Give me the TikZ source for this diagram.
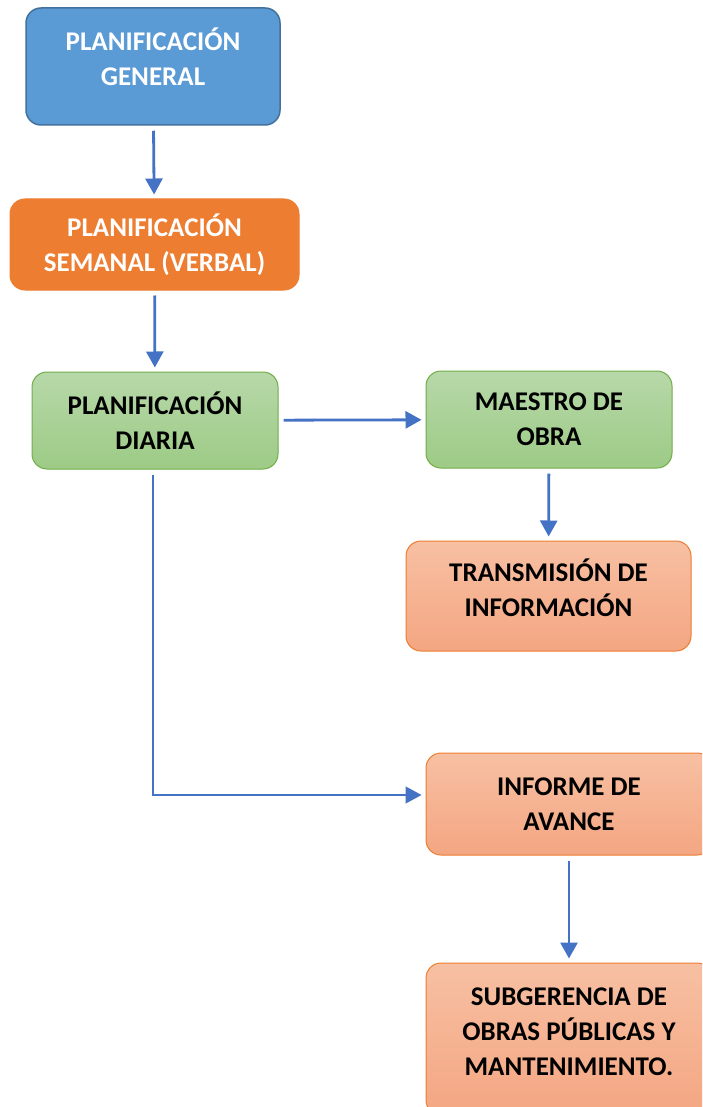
\documentclass[tikz,border=0pt]{standalone}
\usepackage{fontspec}
\setmainfont{Carlito}
\usetikzlibrary{arrows.meta}
\definecolor{azulbox}{HTML}{5B9BD5}
\definecolor{azulborde}{HTML}{41719C}
\definecolor{naranja}{HTML}{ED7D31}
\definecolor{verdearriba}{HTML}{B7D8A9}
\definecolor{verdeabajo}{HTML}{9DCB86}
\definecolor{verdeborde}{HTML}{70AD47}
\definecolor{salmonarriba}{HTML}{F7C0A3}
\definecolor{salmonabajo}{HTML}{F4A682}
\definecolor{flecha}{HTML}{4472C4}
\begin{document}
\begin{tikzpicture}[x=1pt, y=-1pt, font=\fontsize{27}{35}\selectfont\bfseries,
	caja/.style={rounded corners=15pt, align=center, inner sep=0pt, line width=1pt},
	azul/.style={caja, fill=azulbox, draw=azulborde, line width=1.5pt, text=white},
	tarea/.style={caja, fill=naranja, draw=naranja, text=white},
	verde/.style={caja, top color=verdearriba, bottom color=verdeabajo, draw=verdeborde, text=black},
	salmon/.style={caja, top color=salmonarriba, bottom color=salmonabajo, draw=naranja, text=black},
	flujo/.style={draw=flecha, line width=2.8pt, -{Triangle[width=17pt,length=16pt]}, shorten <=5pt, shorten >=4pt}]
		\useasboundingbox (0,0) rectangle (702,1107);
		\clip (0,0) rectangle (702,1107);
		\fill[white] (0,0) rectangle (702,1107);
		\node[azul, minimum width=254pt, minimum height=117pt, text depth=20pt] (general) at (153,66.5) {PLANIFICACIÓN\\GENERAL};
		\node[tarea, minimum width=289pt, minimum height=91pt] (semanal) at (154.5,244.5) {PLANIFICACIÓN\\SEMANAL (VERBAL)};
		\node[verde, minimum width=246pt, minimum height=97pt] (diaria) at (155,420.5) {PLANIFICACIÓN\\DIARIA};
		\node[verde, minimum width=246pt, minimum height=97pt] (maestro) at (549,419.5) {MAESTRO DE\\OBRA};
		\node[salmon, minimum width=285pt, minimum height=110pt, text depth=17pt] (transmision) at (548.5,596) {TRANSMISIÓN DE\\INFORMACIÓN};
		\node[salmon, minimum width=286pt, minimum height=102pt] (informe) at (569,804) {INFORME DE\\AVANCE};
		\node[salmon, minimum width=286pt, minimum height=152pt, text depth=15pt] (subgerencia) at (569,1039) {SUBGERENCIA DE\\OBRAS PÚBLICAS Y\\MANTENIMIENTO.};
		\draw[flujo] (general) -- (semanal);
		\draw[flujo] (semanal) -- (diaria);
		\draw[flujo] (diaria) -- (maestro);
		\draw[flujo] (maestro) -- (transmision);
		\draw[flujo] (informe) -- (subgerencia);
		\draw[flujo, line width=1.4pt] ([xshift=-2pt]diaria.south) |- ([yshift=9pt]informe.west);
	\end{tikzpicture}
\end{document}
